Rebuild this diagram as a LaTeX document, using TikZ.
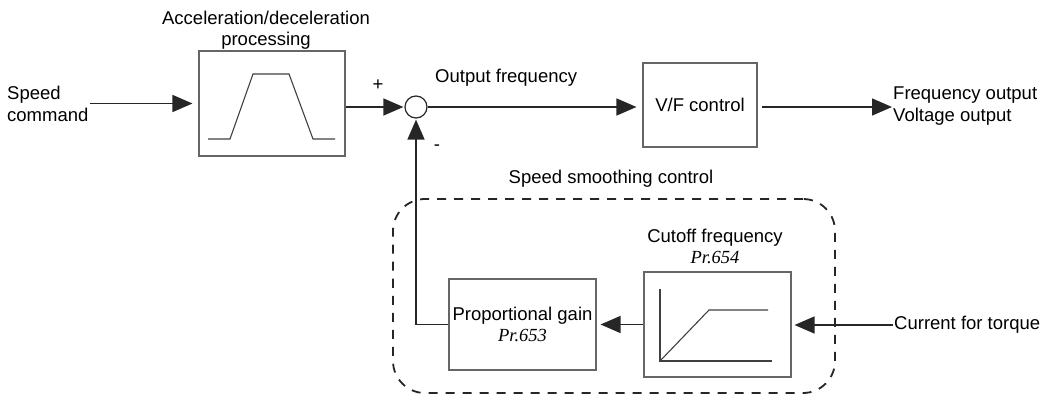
\documentclass[tikz,border=0pt]{standalone}
\usepackage{fontspec}
\setmainfont{Liberation Sans}
\newfontfamily\tms{Liberation Serif}
\usetikzlibrary{arrows.meta,calc}
\begin{document}
\begin{tikzpicture}[x=1pt,y=-1pt,
  font=\fontsize{18.5}{21.5}\selectfont,
  blk/.style={draw=black!60,line width=1.1pt,inner sep=0pt},
  conn/.style={draw=black!85,line width=1.5pt},
  arr/.style={conn,-{Triangle[length=20pt,width=17pt]}},
  lbl/.style={inner sep=1pt},
  thinline/.style={draw=black!75,line width=1.1pt}]
\useasboundingbox (0,0) rectangle (1044,396);

% dashed group
\node[draw=black!85,line width=1.8pt,dash pattern=on 9pt off 8pt,rounded corners=32pt,
      minimum width=442pt,minimum height=194pt,inner sep=0pt] (smooth) at (614,296) {};
\node[lbl] (smoothlbl) at (611,179) {Speed smoothing control};

% top row
\node[lbl,align=left,anchor=west] (cmd) at (6,104) {Speed\\command};
\node[blk,minimum width=146pt,minimum height=105pt] (acc) at (272,103.5) {};
\node[lbl,align=center] (acclbl) at (266,30) {Acceleration/deceleration\\processing};
\draw[thinline] (208,139) -- (230,139) -- (253,74) -- (289,74) -- (313,139) -- (335,139);

\node[circle,draw=black!85,line width=1.2pt,minimum size=22pt,inner sep=0pt] (sum) at (416,107) {};
\node[lbl] (plus) at (378,85) {+};
\node[lbl] (minus) at (437,148) {-};
\node[lbl,anchor=west] (ofreq) at (434,78) {Output frequency};

\node[blk,minimum width=114pt,minimum height=84pt] (vf) at (700,105) {V/F control};
\node[lbl,align=left,anchor=west] (out) at (892,106) {Frequency output\\Voltage output};

\draw[arr,shorten >=6pt] (cmd.east |- acc.west) -- (acc.west);
\draw[arr,shorten >=1pt] (acc.east |- sum.west) -- (sum.west);
\draw[arr,shorten >=6pt] (sum.east) -- (vf.west |- sum.east);
\draw[arr,shorten <=4pt] (vf.east |- sum.east) -- (out.west |- sum.east);

% lower row
\node[blk,minimum width=147pt,minimum height=91pt,align=center] (prop) at (522.5,324.5)
  {Proportional gain\\{\tms\itshape Pr.653}};
\node[blk,minimum width=147pt,minimum height=105pt] (cut) at (717.5,324.5) {};
\node[lbl,align=center] (cutlbl) at (715,246.5) {Cutoff frequency\\{\tms\itshape Pr.654}};
\draw[thinline] (660,289) -- (660,361) -- (772,361);
\draw[thinline] (660,361) -- (709,310) -- (768,310);

\node[lbl,anchor=west] (cur) at (893,325) {Current for torque};

\draw[arr,shorten >=3pt] (cur.west) -- (cut.east |- cur.west);
\draw[arr,shorten >=4pt] (cut.west |- prop.east) -- (prop.east);
\draw[arr,shorten >=1pt] (prop.west) -| (sum.south);
\end{tikzpicture}
\end{document}
